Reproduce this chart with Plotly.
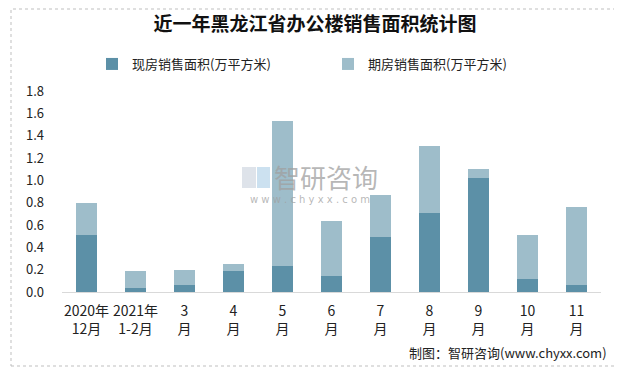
import plotly.graph_objects as go

categories = ["2020年<br>12月", "2021年<br>1-2月", "3<br>月", "4<br>月", "5<br>月", "6<br>月",
              "7<br>月", "8<br>月", "9<br>月", "10<br>月", "11<br>月"]
spot_sales = [0.51, 0.04, 0.06, 0.19, 0.23, 0.14, 0.49, 0.71, 1.02, 0.12, 0.06]
presale_sales = [0.29, 0.15, 0.14, 0.06, 1.30, 0.50, 0.38, 0.60, 0.08, 0.39, 0.70]
y_ticks = [0.0, 0.2, 0.4, 0.6, 0.8, 1.0, 1.2, 1.4, 1.6, 1.8]

# the page places the figure 8px from the top-left corner
OFF = 8
W, H = 622 - OFF, 370 - OFF
# plot area in screen pixels: x 62..601, y 91..292
L, R, T, B = 62 - OFF, 622 - 601, 91 - OFF, 370 - 292
pw, ph = W - L - R, H - T - B

def px(x):
    return (x - OFF - L) / pw

def py(y):
    return (H - B - (y - OFF)) / ph

FONT = "Noto Sans CJK SC"

fig = go.Figure()
fig.add_trace(go.Bar(x=categories, y=spot_sales, name="现房销售面积(万平方米)",
                     marker=dict(color="#5c90a7", line=dict(width=0))))
fig.add_trace(go.Bar(x=categories, y=presale_sales, name="期房销售面积(万平方米)",
                     marker=dict(color="#9ebdca", line=dict(width=0))))

fig.update_layout(
    width=W, height=H, barmode="stack", bargap=0.59,
    margin=dict(l=L, r=R, t=T, b=B),
    paper_bgcolor="white", plot_bgcolor="white",
    font=dict(family=FONT, size=13, color="#222222"),
    title=dict(text="<b>近一年黑龙江省办公楼销售面积统计图</b>", x=0.5, xanchor="center",
               y=1 - (24 - OFF) / H, yanchor="middle",
               font=dict(family=FONT, size=19, color="#111111")),
    legend=dict(orientation="h", x=px(92), xanchor="left", y=py(64), yanchor="middle",
                entrywidth=191, entrywidthmode="pixels", font=dict(size=13, color="#222222"),
                bgcolor="rgba(0,0,0,0)", traceorder="normal"),
    showlegend=True,
)
fig.update_xaxes(showline=True, linecolor="#d9d9d9", linewidth=1, ticks="", showgrid=False,
                 tickfont=dict(size=14, color="#222222"), ticklabelstandoff=6)
fig.update_yaxes(range=[0, 1.8], tickvals=y_ticks, tickformat=".1f", showgrid=False,
                 zeroline=False, showline=False, ticks="", ticklabelstandoff=17,
                 tickfont=dict(size=13, color="#222222"))

# outer border
fig.add_shape(type="rect", xref="paper", yref="paper", x0=px(11), x1=px(615), y0=py(366), y1=py(9),
              line=dict(color="#bfbfbf", width=1, dash="dot"), fillcolor="rgba(0,0,0,0)", layer="below")

# watermark
fig.add_shape(type="rect", xref="paper", yref="paper", x0=px(242), x1=px(256), y0=py(188), y1=py(167),
              line=dict(width=0), fillcolor="rgba(200,208,220,0.6)", layer="above")
fig.add_shape(type="rect", xref="paper", yref="paper", x0=px(257), x1=px(270), y0=py(188), y1=py(167),
              line=dict(width=0), fillcolor="rgba(170,205,230,0.6)", layer="above")
fig.add_annotation(text="智研咨询", xref="paper", yref="paper", x=px(326), y=py(176),
                   showarrow=False, font=dict(family=FONT, size=26, color="rgba(160,160,160,0.75)"))
fig.add_annotation(text="w w w . c h y x x . c o m", xref="paper", yref="paper", x=px(310), y=py(199),
                   showarrow=False, font=dict(family="DejaVu Sans", size=10, color="rgba(160,160,160,0.75)"))

# source
fig.add_annotation(text="制图：智研咨询(www.chyxx.com)", xref="paper", yref="paper",
                   x=px(609), y=py(352), xanchor="right", yanchor="middle", showarrow=False,
                   font=dict(family=FONT, size=13, color="#222222"))

fig.write_html("out.html")
